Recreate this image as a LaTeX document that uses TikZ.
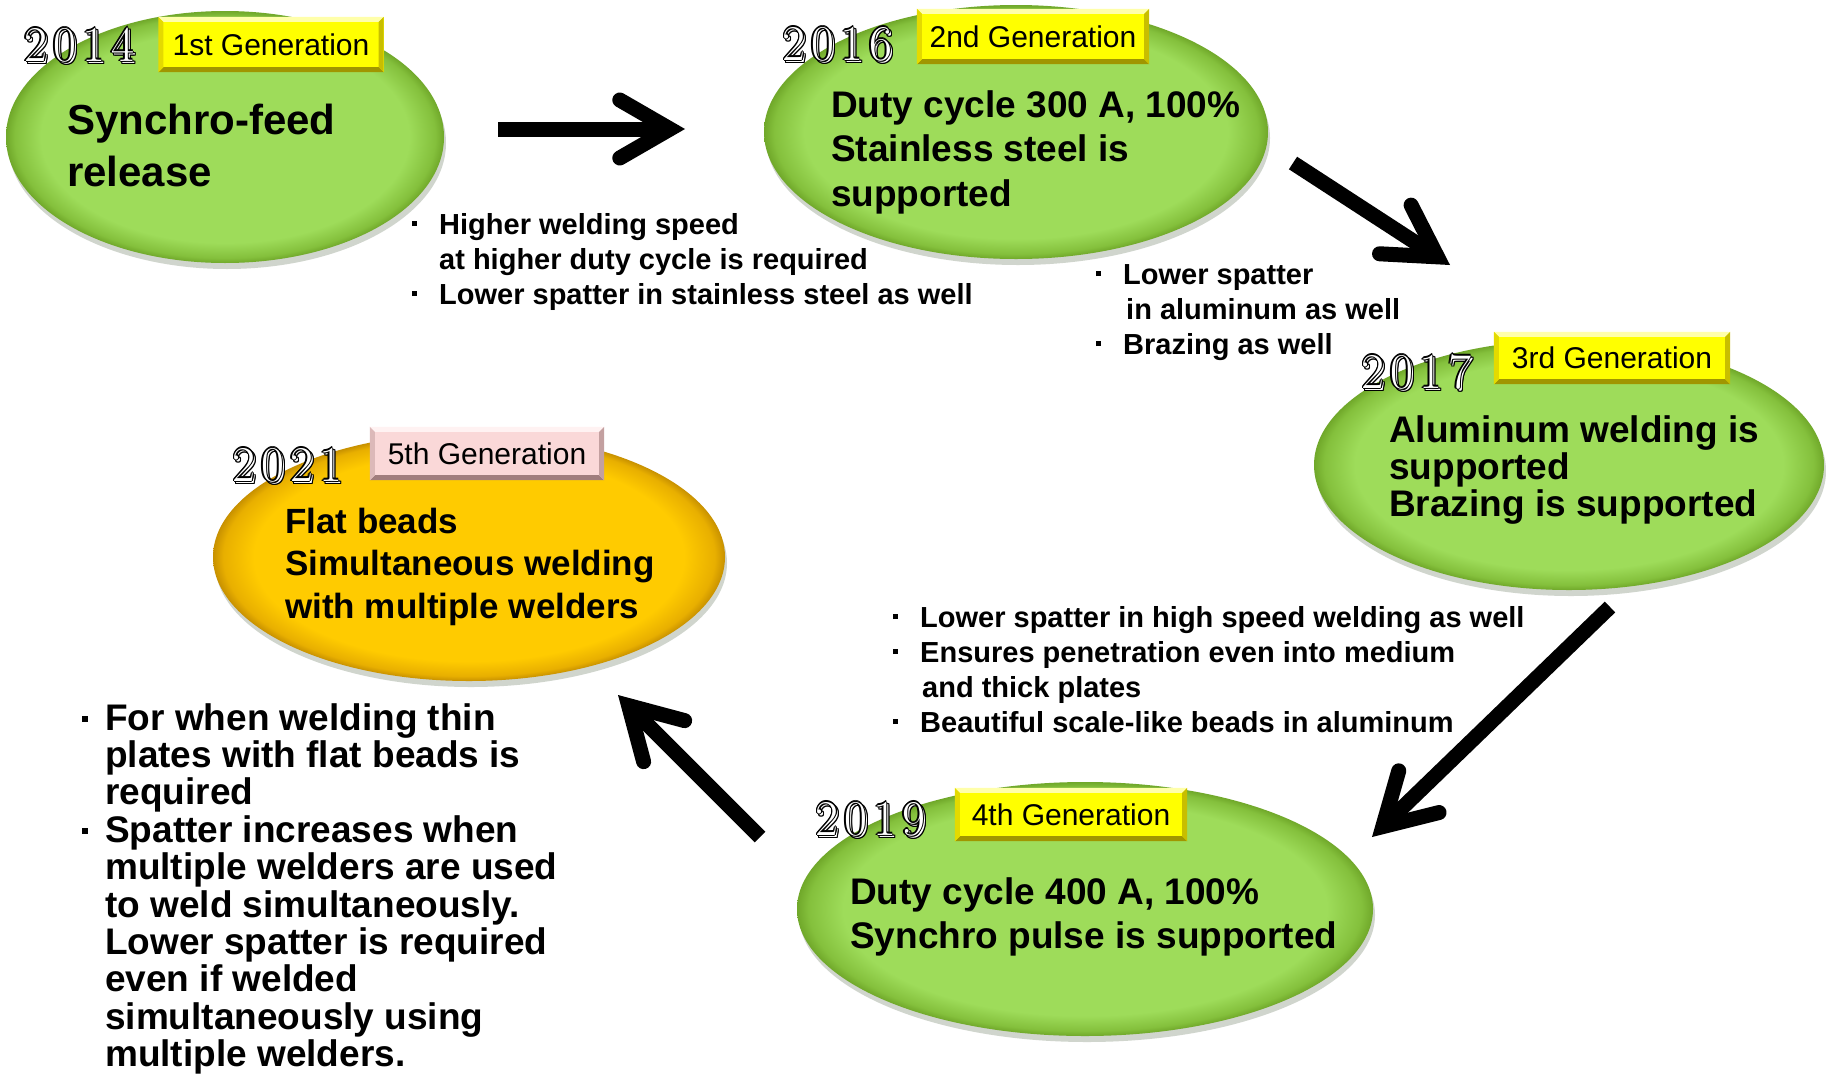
\documentclass[tikz,border=0pt]{standalone}
\usepackage{fontspec}
\setsansfont{Liberation Sans}
\usetikzlibrary{calc,shapes.geometric}

\definecolor{gmid}{RGB}{158,220,90}
\definecolor{gdark}{RGB}{132,192,60}
\definecolor{gedge}{RGB}{112,168,42}
\definecolor{omid}{RGB}{255,203,0}
\definecolor{odark}{RGB}{232,175,0}
\definecolor{oedge}{RGB}{200,145,0}
\definecolor{ylw}{RGB}{255,255,0}
\definecolor{ytop}{RGB}{255,255,170}
\definecolor{yleft}{RGB}{228,218,0}
\definecolor{yright}{RGB}{200,190,0}
\definecolor{ybot}{RGB}{160,150,0}
\definecolor{pnk}{RGB}{250,216,216}
\definecolor{ptop}{RGB}{255,242,242}
\definecolor{pleft}{RGB}{220,185,185}
\definecolor{pright}{RGB}{195,160,160}
\definecolor{pbot}{RGB}{160,125,125}
\definecolor{shadowc}{RGB}{170,180,165}

\pgfdeclareradialshading{gshade}{\pgfpoint{0bp}{0bp}}{color(0bp)=(gmid); color(21bp)=(gmid); color(24bp)=(gdark); color(25bp)=(gedge); color(50bp)=(gedge)}
\pgfdeclareradialshading{oshade}{\pgfpoint{0bp}{0bp}}{color(0bp)=(omid); color(21bp)=(omid); color(24bp)=(odark); color(25bp)=(oedge); color(50bp)=(oedge)}

\newcommand\bul[3]{\llap{\rule[#1]{#2}{#2}\hspace{#3}}}
\newcommand\lines[1]{\vtop{\lineskiplimit=-1000pt\lineskip=0pt\halign{##\hfil\cr#1\crcr}}}
\newcommand\yrlayer[3]{\rlap{\kern#1\raisebox{#2}{#3}}}
\newcommand\ringat[3]{%
 \yrlayer{\dimexpr#1+1.2pt\relax}{#2}{\color{black}#3}%
 \yrlayer{\dimexpr#1-1.2pt\relax}{#2}{\color{black}#3}%
 \yrlayer{#1}{\dimexpr#2+1.2pt\relax}{\color{black}#3}%
 \yrlayer{#1}{\dimexpr#2-1.2pt\relax}{\color{black}#3}%
 \yrlayer{\dimexpr#1+0.85pt\relax}{\dimexpr#2+0.85pt\relax}{\color{black}#3}%
 \yrlayer{\dimexpr#1-0.85pt\relax}{\dimexpr#2+0.85pt\relax}{\color{black}#3}%
 \yrlayer{\dimexpr#1+0.85pt\relax}{\dimexpr#2-0.85pt\relax}{\color{black}#3}%
 \yrlayer{\dimexpr#1-0.85pt\relax}{\dimexpr#2-0.85pt\relax}{\color{black}#3}%
 \yrlayer{#1}{#2}{\color{white}#3}%
}
\newcommand\yeartext[1]{\ringat{2.2pt}{-2.2pt}{#1}\ringat{0pt}{0pt}{#1}\phantom{#1}}
\newcommand\yr[4]{#1\kern6pt#2\kern6pt#3\kern6pt#4}

\newcommand\bevel[5]{% node, top, left, right, bottom
 \fill[#2] (#1.north west) -- (#1.north east) -- ($(#1.north east)+(-5,5)$) -- ($(#1.north west)+(5,5)$) -- cycle;
 \fill[#5] (#1.south west) -- (#1.south east) -- ($(#1.south east)+(-5,-5)$) -- ($(#1.south west)+(5,-5)$) -- cycle;
 \fill[#3] (#1.north west) -- (#1.south west) -- ($(#1.south west)+(5,-5)$) -- ($(#1.north west)+(5,5)$) -- cycle;
 \fill[#4] (#1.north east) -- (#1.south east) -- ($(#1.south east)+(-5,-5)$) -- ($(#1.north east)+(-5,5)$) -- cycle;
}

\newcommand\fatarrow[2]{%
 \coordinate (#2v) at ($(#2)!15pt!(#1)$);
 \draw[fatline, line cap=butt] (#1) -- (#2v);
 \draw[fatline, line cap=round, line join=miter, miter limit=20] ($(#2v)!58pt!30:(#1)$) -- (#2v) -- ($(#2v)!58pt!-30:(#1)$);
}

\tikzset{
 gell/.style={ellipse, inner sep=0pt, shading=gshade},
 oell/.style={ellipse, inner sep=0pt, shading=oshade},
 ellshadow/.style={fill=shadowc, opacity=0.55},
 genlab/.style={rectangle, inner sep=0pt, font=\sffamily\fontsize{30}{36}\selectfont},
 yearlab/.style={inner sep=0pt, anchor=base west, font=\rmfamily\fontsize{50}{55}\selectfont},
 txt/.style={inner sep=0pt, anchor=base west},
 fatline/.style={draw=black, line width=15pt},
}

\begin{document}
\begin{tikzpicture}[x=1pt,y=-1pt]
\useasboundingbox (0,0) rectangle (1826,1074);
\fill[white] (0,0) rectangle (1826,1074);

% ellipse centres
\coordinate (c1) at (225,137);
\coordinate (c2) at (1016,132);
\coordinate (c3) at (1569,465);
\coordinate (c4) at (1085,909);
\coordinate (c5) at (469,557);

% shadows
\fill[ellshadow] ($(c1)+(2,6)$) ellipse [x radius=219, y radius=126];
\fill[ellshadow] ($(c2)+(2,6)$) ellipse [x radius=252, y radius=127];
\fill[ellshadow] ($(c3)+(2,6)$) ellipse [x radius=255, y radius=125];
\fill[ellshadow] ($(c4)+(2,6)$) ellipse [x radius=288, y radius=127];
\fill[ellshadow] ($(c5)+(2,6)$) ellipse [x radius=256, y radius=124];

% ellipses
\node[gell, minimum width=438pt, minimum height=252pt] (e1) at (c1) {};
\node[gell, minimum width=504pt, minimum height=254pt] (e2) at (c2) {};
\node[gell, minimum width=510pt, minimum height=250pt] (e3) at (c3) {};
\node[gell, minimum width=576pt, minimum height=254pt] (e4) at (c4) {};
\node[oell, minimum width=512pt, minimum height=248pt] (e5) at (c5) {};

% generation labels
\node[genlab, fill=ylw, minimum width=225pt, minimum height=55pt] (g1) at (271,44.5) {1st Generation};
\bevel{g1}{ytop}{yleft}{yright}{ybot}
\node[genlab, fill=ylw, minimum width=232pt, minimum height=55pt] (g2) at (1033,36.5) {2nd Generation};
\bevel{g2}{ytop}{yleft}{yright}{ybot}
\node[genlab, fill=ylw, minimum width=236pt, minimum height=52pt] (g3) at (1612,358) {3rd Generation};
\bevel{g3}{ytop}{yleft}{yright}{ybot}
\node[genlab, fill=ylw, minimum width=232pt, minimum height=53pt] (g4) at (1071,814.5) {4th Generation};
\bevel{g4}{ytop}{yleft}{yright}{ybot}
\node[genlab, fill=pnk, minimum width=234pt, minimum height=53pt] (g5) at (487,453.5) {5th Generation};
\bevel{g5}{ptop}{pleft}{pright}{pbot}

% years
\node[yearlab] (y1) at (24,61) {\yeartext{\yr2014}};
\node[yearlab] (y2) at (782,60) {\yeartext{\yr2016}};
\node[yearlab] (y3) at (1361,388) {\yeartext{\yr2017}};
\node[yearlab] (y4) at (815,835) {\yeartext{\yr2019}};
\node[yearlab] (y5) at (232,481) {\yeartext{\yr2021}};

% main texts
\node[txt, font=\sffamily\bfseries\fontsize{42}{51.5}\selectfont] (m1) at (67,134.5)
  {\lines{Synchro-feed\cr release}};
\node[txt, font=\sffamily\bfseries\fontsize{37}{44.8}\selectfont] (m2) at (831,117)
  {\lines{Duty cycle 300 A, 100\%\cr Stainless steel is\cr supported}};
\node[txt, font=\sffamily\bfseries\fontsize{37}{37}\selectfont] (m3) at (1389,442)
  {\lines{Aluminum welding is\cr supported\cr Brazing is supported}};
\node[txt, font=\sffamily\bfseries\fontsize{37}{44}\selectfont] (m4) at (850,904)
  {\lines{Duty cycle 400 A, 100\%\cr Synchro pulse is supported}};
\node[txt, font=\sffamily\bfseries\fontsize{35}{42.5}\selectfont] (m5) at (285,533)
  {\lines{Flat beads\cr Simultaneous welding\cr with multiple welders}};

% requirement texts
\node[txt, font=\sffamily\bfseries\fontsize{29}{35}\selectfont] (r12) at (439,234)
  {\lines{\bul{8pt}{5pt}{22pt}Higher welding speed\cr at higher duty cycle is required\cr \bul{8pt}{5pt}{22pt}Lower spatter in stainless steel as well}};
\node[txt, font=\sffamily\bfseries\fontsize{29}{35}\selectfont] (r23) at (1123,284)
  {\lines{\bul{8pt}{5pt}{22pt}Lower spatter\cr \kern3pt in aluminum as well\cr \bul{8pt}{5pt}{22pt}Brazing as well}};
\node[txt, font=\sffamily\bfseries\fontsize{29}{35}\selectfont] (r34) at (920,627)
  {\lines{\bul{8pt}{5pt}{22pt}Lower spatter in high speed welding as well\cr \bul{8pt}{5pt}{22pt}Ensures penetration even into medium\cr \kern2pt and thick plates\cr \bul{8pt}{5pt}{22pt}Beautiful scale-like beads in aluminum}};
\node[txt, font=\sffamily\bfseries\fontsize{37}{37.4}\selectfont] (r45) at (105,730)
  {\lines{\bul{8pt}{6.5pt}{17pt}For when welding thin\cr plates with flat beads is\cr required\cr \bul{8pt}{6.5pt}{17pt}Spatter increases when\cr multiple welders are used\cr to weld simultaneously.\cr Lower spatter is required\cr even if welded\cr simultaneously using\cr multiple welders.}};

% arrows
\coordinate (s1) at (498,129);  \coordinate (t1) at (685,129);
\coordinate (s2) at (1293,163); \coordinate (t2) at (1450,265);
\coordinate (s3) at (1610,607); \coordinate (t3) at (1372,837);
\coordinate (s4) at (760,837);  \coordinate (t4) at (618,695);
\fatarrow{s1}{t1}
\fatarrow{s2}{t2}
\fatarrow{s3}{t3}
\fatarrow{s4}{t4}
\end{tikzpicture}
\end{document}
